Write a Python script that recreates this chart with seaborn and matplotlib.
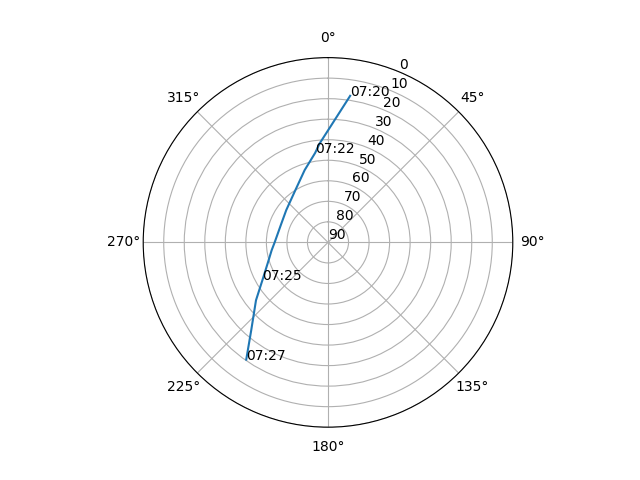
import numpy as np
import pandas as pd
import matplotlib
matplotlib.use("Agg")
import matplotlib.pyplot as plt
import seaborn as sns

# Traced satellite pass (azimuth in degrees, elevation in degrees)
azimuth = [8.6, 1.7, 355.2, 351.8, 342.1, 328.0, 307.7, 291.9, 269.9,
           262.1, 251.9, 240.0, 231.2, 221.1, 214.9]
elevation = [17.8, 32.8, 41.6, 46.0, 53.0, 60.0, 64.3, 65.5, 64.0,
             62.3, 59.3, 53.1, 45.0, 33.1, 20.4]

# Time labels
label_times = ["07:20", "07:22", "07:25", "07:27"]
label_az = [8.6, 351.8, 240.0, 214.9]
label_el = [17.8, 46.0, 53.1, 20.4]

df = pd.DataFrame({"theta": np.deg2rad(azimuth), "el": elevation})

fig = plt.figure(figsize=(6.4, 4.8), dpi=100)
ax = fig.add_subplot(111, projection="polar")
ax.set_theta_zero_location("N")
ax.set_theta_direction(-1)

sns.lineplot(data=df, x="theta", y="el", sort=False, ax=ax, color="#1f77b4", linewidth=1.5)

for t, a, e in zip(label_times, label_az, label_el):
    ax.text(np.deg2rad(a), e, t, fontsize=10)

ax.set_ylim(90, 0)
ax.set_yticks(range(0, 91, 10))
ax.set_xlabel("")
ax.set_ylabel("")
ax.grid(True)

fig.savefig("out.png", dpi=100)
